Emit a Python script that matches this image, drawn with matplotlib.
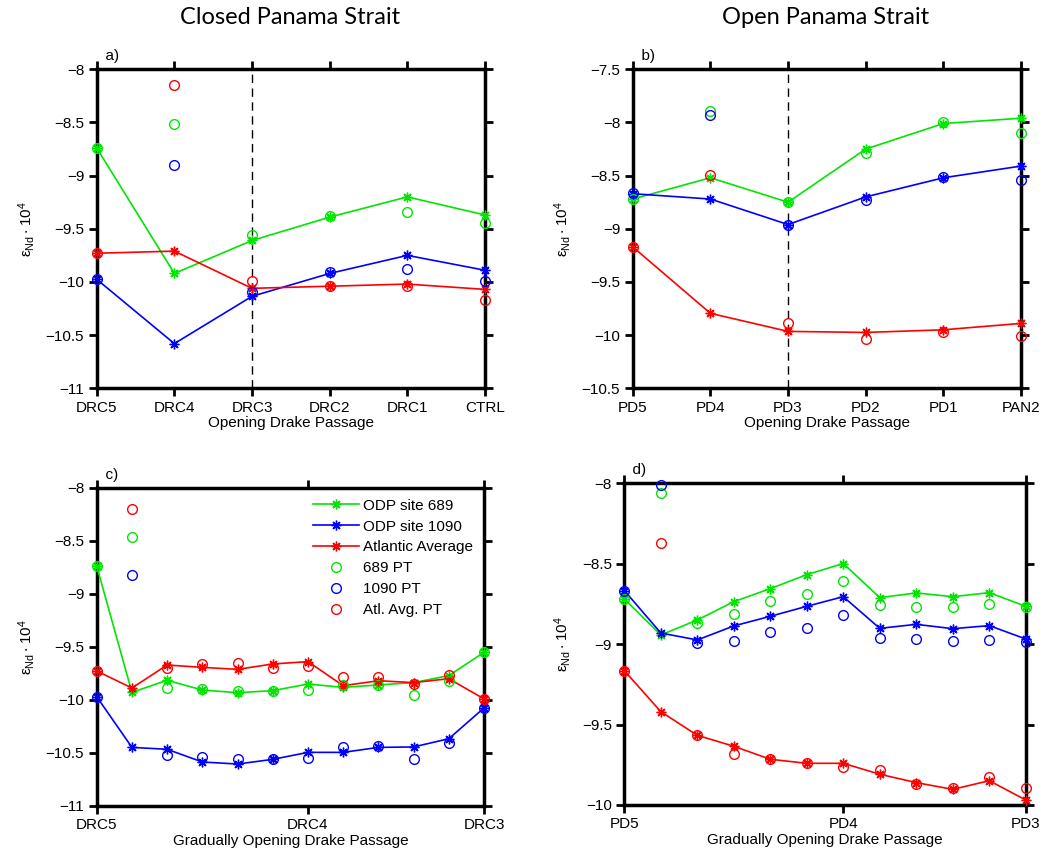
import numpy as np
import matplotlib
matplotlib.use('Agg')
import matplotlib.pyplot as plt

plt.rcParams['font.family'] = ['Liberation Sans', 'DejaVu Sans']

# panel a) closed Panama, opening Drake passage
labels_a = ['DRC5', 'DRC4', 'DRC3', 'DRC2', 'DRC1', 'CTRL']
a_689 = [-8.74, -9.92, -9.61, -9.39, -9.20, -9.37]
a_1090 = [-9.975, -10.58, -10.135, -9.92, -9.75, -9.89]
a_atl = [-9.73, -9.71, -10.06, -10.04, -10.02, -10.07]
a_689_pt = [-8.74, -8.51, -9.56, -9.38, -9.34, -9.45]
a_1090_pt = [-9.975, -8.90, -10.09, -9.91, -9.88, -9.99]
a_atl_pt = [-9.73, -8.15, -9.99, -10.04, -10.035, -10.17]

# panel b) open Panama
labels_b = ['PD5', 'PD4', 'PD3', 'PD2', 'PD1', 'PAN2']
b_689 = [-8.72, -8.52, -8.75, -8.25, -8.01, -7.96]
b_1090 = [-8.67, -8.72, -8.96, -8.70, -8.52, -8.41]
b_atl = [-9.17, -9.795, -9.965, -9.975, -9.95, -9.89]
b_689_pt = [-8.72, -7.89, -8.75, -8.29, -8.00, -8.10]
b_1090_pt = [-8.665, -7.93, -8.96, -8.73, -8.51, -8.545]
b_atl_pt = [-9.17, -8.49, -9.89, -10.04, -9.97, -10.01]

# panel c) gradual opening DRC5 -> DRC3
labels_c = ['DRC5', 'DRC4', 'DRC3']
c_689 = [-8.736, -9.928, -9.814, -9.906, -9.931, -9.912, -9.849, -9.881, -9.858, -9.836, -9.770, -9.550]
c_1090 = [-9.969, -10.447, -10.465, -10.585, -10.604, -10.56, -10.494, -10.494, -10.447, -10.443, -10.365, -10.075]
c_atl = [-9.726, -9.887, -9.67, -9.692, -9.711, -9.66, -9.638, -9.865, -9.818, -9.836, -9.799, -9.99]
c_689_pt = [-8.736, -8.462, -9.887, -9.899, -9.912, -9.912, -9.906, -9.858, -9.858, -9.953, -9.824, -9.55]
c_1090_pt = [-9.969, -8.824, -10.522, -10.541, -10.557, -10.56, -10.55, -10.447, -10.431, -10.557, -10.403, -10.075]
c_atl_pt = [-9.726, -8.201, -9.701, -9.664, -9.654, -9.701, -9.676, -9.780, -9.783, -9.852, -9.767, -9.987]

# panel d) gradual opening PD5 -> PD3
labels_d = ['PD5', 'PD4', 'PD3']
d_689 = [-8.719, -8.943, -8.850, -8.736, -8.655, -8.568, -8.499, -8.711, -8.682, -8.705, -8.680, -8.765]
d_1090 = [-8.667, -8.931, -8.974, -8.887, -8.827, -8.765, -8.705, -8.902, -8.877, -8.904, -8.885, -8.968]
d_atl = [-9.165, -9.420, -9.567, -9.635, -9.716, -9.741, -9.741, -9.809, -9.861, -9.903, -9.849, -9.969]
d_689_pt = [-8.719, -8.058, -8.870, -8.812, -8.734, -8.686, -8.607, -8.759, -8.767, -8.767, -8.748, -8.767]
d_1090_pt = [-8.667, -8.008, -8.993, -8.982, -8.924, -8.897, -8.821, -8.960, -8.970, -8.978, -8.974, -8.987]
d_atl_pt = [-9.165, -8.371, -9.567, -9.685, -9.716, -9.741, -9.762, -9.784, -9.871, -9.892, -9.828, -9.892]

GREEN = '#00e600'
BLUE = '#0000ff'
RED = '#ff0000'
ASTERISK = (8, 2, 0)


def draw_panel(ax, lines, pts, ticks, ticklabels, ylim, yticks, xlabel, letter, dashed=None):
    x = np.arange(len(lines[0]))
    names = ['ODP site 689', 'ODP site 1090', 'Atlantic Average']
    ptnames = ['689 PT', '1090 PT', 'Atl. Avg. PT']
    for y, c, n in zip(lines, [GREEN, BLUE, RED], names):
        ax.plot(x, y, '-', marker=ASTERISK, color=c, lw=1.2, ms=7, mew=1.0, label=n, clip_on=False, zorder=3)
    for y, c, n in zip(pts, [GREEN, BLUE, RED], ptnames):
        ax.plot(x, y, 'o', color=c, mfc='none', ms=7, mew=1.0, ls='none', label=n, clip_on=False, zorder=3)
    if dashed is not None:
        ax.axvline(dashed, color='k', ls=(0, (6, 4)), lw=1.0, zorder=1)
    ax.set_xlim(x[0], x[-1])
    ax.set_ylim(*ylim)
    ax.set_xticks(ticks)
    ax.set_xticklabels(ticklabels)
    ax.set_yticks(yticks)
    ax.set_yticklabels(['\u2212' + ('%g' % abs(v)) for v in yticks])
    ax.tick_params(direction='out', length=6, width=2, labelsize=11, top=True, right=True, pad=3)
    for s in ax.spines.values():
        s.set_linewidth(2.5)
    ax.set_xlabel(xlabel, fontsize=11, labelpad=1)
    ax.set_ylabel(r'$\mathregular{\epsilon_{Nd}\cdot 10^{4}}$', fontsize=11, labelpad=6)
    ax.text(0.0, 1.02, letter, transform=ax.transAxes, fontsize=11, ha='left', va='bottom')


fig = plt.figure(figsize=(10.5, 8.59), dpi=100)
ax_a = fig.add_axes([0.0921, 0.5480, 0.3698, 0.3713])
ax_b = fig.add_axes([0.6026, 0.5480, 0.3698, 0.3713])
ax_c = fig.add_axes([0.0921, 0.0617, 0.3689, 0.3702])
ax_d = fig.add_axes([0.5946, 0.0629, 0.3823, 0.3745])

ya = [-11, -10.5, -10, -9.5, -9, -8.5, -8]
draw_panel(ax_a, [a_689, a_1090, a_atl], [a_689_pt, a_1090_pt, a_atl_pt],
           range(6), labels_a, (-11, -8), ya, 'Opening Drake Passage', '  a)', dashed=2)
yb = [-10.5, -10, -9.5, -9, -8.5, -8, -7.5]
draw_panel(ax_b, [b_689, b_1090, b_atl], [b_689_pt, b_1090_pt, b_atl_pt],
           range(6), labels_b, (-10.5, -7.5), yb, 'Opening Drake Passage', '  b)', dashed=2)
draw_panel(ax_c, [c_689, c_1090, c_atl], [c_689_pt, c_1090_pt, c_atl_pt],
           [0, 6, 11], labels_c, (-11, -8), ya, 'Gradually Opening Drake Passage', '  c)')
yd = [-10, -9.5, -9, -8.5, -8]
draw_panel(ax_d, [d_689, d_1090, d_atl], [d_689_pt, d_1090_pt, d_atl_pt],
           [0, 6, 11], labels_d, (-10, -8), yd, 'Gradually Opening Drake Passage', '  d)')

ax_c.legend(loc='upper right', frameon=False, fontsize=11, handlelength=3.0,
            labelspacing=0.45, handletextpad=0.3, borderaxespad=0.3)

fig.text(0.276, 0.980, 'Closed Panama Strait', fontsize=17, ha='center', va='center', family=['Lato', 'DejaVu Sans'])
fig.text(0.786, 0.980, 'Open Panama Strait', fontsize=17, ha='center', va='center', family=['Lato', 'DejaVu Sans'])

fig.savefig('out.png', dpi=100)
